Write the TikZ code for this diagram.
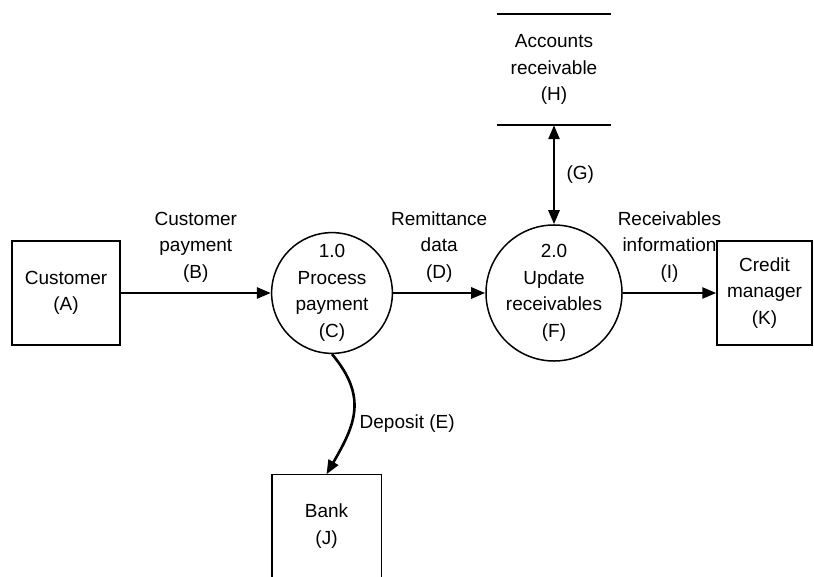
\documentclass[tikz,border=0pt]{standalone}
\usepackage{fontspec}
\setmainfont{Liberation Sans}
\usetikzlibrary{arrows.meta}

\tikzset{
  entity/.style={draw, line width=1.5pt, minimum width=108pt, minimum height=104pt, align=center, inner sep=0pt},
  process/.style={draw, circle, line width=1.5pt, minimum size=118pt, align=center, inner sep=0pt},
  flow/.style={line width=2.6pt, -{Triangle[length=14pt,width=11pt]}},
  flowlabel/.style={align=center}
}

\begin{document}
\begin{tikzpicture}[x=1pt, y=-1pt, font=\fontsize{19}{26.5}\selectfont]
  \useasboundingbox (0,0) rectangle (814,577);
  \node[entity] (cust) at (66,293) {Customer\\(A)};
  \node[process] (proc1) at (332,293) {1.0\\Process\\payment\\(C)};
  \node[process] (proc2) at (554,293) {2.0\\Update\\receivables\\(F)};
  \node[entity, minimum width=95pt] (credit) at (764.5,293) {Credit\\manager\\(K)};
  \node[entity, draw=none, minimum height=102pt] (bank) at (326.5,526) {Bank\\(J)};
  \draw[line width=1.5pt] (bank.south west) |- (bank.north east) -- (bank.south east);
  \node[align=center, minimum width=113pt, minimum height=111pt, inner sep=0pt] (ar) at (554,69.5) {Accounts\\receivable\\(H)};
  \draw[line width=1.5pt] (ar.north west) -- (ar.north east);
  \draw[line width=1.5pt] (ar.south west) -- (ar.south east);

  \draw[flow] (cust) -- node[flowlabel, above=6pt] {Customer\\payment\\(B)} (proc1);
  \draw[flow] (proc1) -- node[flowlabel, above=6pt] {Remittance\\data\\(D)} (proc2);
  \draw[flow] (proc2) -- node[flowlabel, above=6pt] {Receivables\\information\\(I)} (credit);
  \draw[flow, {Triangle[length=14pt,width=11pt]}-{Triangle[length=14pt,width=11pt]}] (ar.south) -- node[right=8pt] {(G)} (proc2.north);
  \draw[flow] (proc1.south) to[out=-50, in=60, looseness=1.2] node[pos=0.6, right=4pt] {Deposit (E)} (bank.north);
\end{tikzpicture}
\end{document}
